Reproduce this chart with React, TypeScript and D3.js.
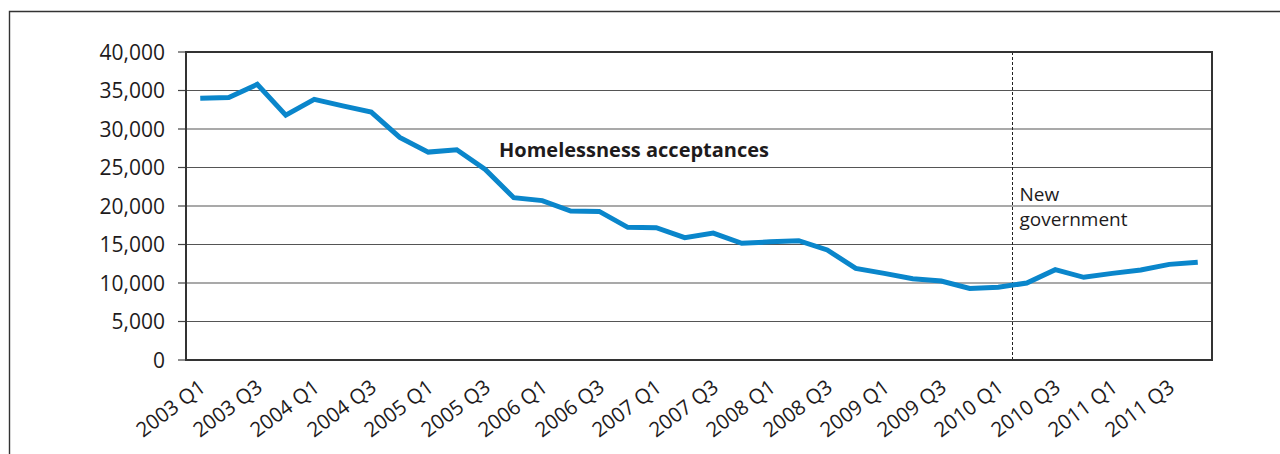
import React from "react";
import * as d3 from "d3";

const quarters: string[] = [
  "2003 Q1","2003 Q2","2003 Q3","2003 Q4",
  "2004 Q1","2004 Q2","2004 Q3","2004 Q4",
  "2005 Q1","2005 Q2","2005 Q3","2005 Q4",
  "2006 Q1","2006 Q2","2006 Q3","2006 Q4",
  "2007 Q1","2007 Q2","2007 Q3","2007 Q4",
  "2008 Q1","2008 Q2","2008 Q3","2008 Q4",
  "2009 Q1","2009 Q2","2009 Q3","2009 Q4",
  "2010 Q1","2010 Q2","2010 Q3","2010 Q4",
  "2011 Q1","2011 Q2","2011 Q3","2011 Q4",
];

const acceptances: number[] = [
  34000, 34100, 35800, 31800,
  33850, 33000, 32200, 28900,
  27000, 27300, 24750, 21080,
  20700, 19350, 19300, 17230,
  17180, 15890, 16490, 15150,
  15350, 15500, 14290, 11900,
  11250, 10560, 10260, 9300,
  9440, 10000, 11730, 10740,
  11250, 11690, 12420, 12690,
];

const xTickLabels: string[] = quarters.filter((_, i) => i % 2 === 0);
const yTicks: number[] = [0, 5000, 10000, 15000, 20000, 25000, 30000, 35000, 40000];
const seriesLabel = "Homelessness acceptances";
const eventQuarter = "2010 Q2";
const eventLabel: string[] = ["New", "government"];

const W = 1280;
const H = 454;
const M = { left: 186, right: 1212, top: 52, bottom: 360 };
const FONT = "'Open Sans', 'Noto Sans', sans-serif";
const TEXT = "#1e1b1c";
const LINE = "#0a86cb";

export default function App() {
  const x = d3.scaleBand<string>().domain(quarters).range([M.left, M.right]).padding(0);
  const y = d3.scaleLinear().domain([0, 40000]).range([M.bottom, M.top]);
  const cx = (q: string) => (x(q) as number) + x.bandwidth() / 2;

  const line = d3
    .line<number>()
    .x((_, i) => cx(quarters[i]))
    .y((d) => y(d));

  const fmt = d3.format(",");
  const evX = x(eventQuarter) as number;

  return (
    <svg
      width={W}
      height={H}
      style={{ position: "absolute", left: 0, top: 0, display: "block", background: "#fff" }}
      fontFamily={FONT}
    >
      {/* outer frame */}
      <path d={`M9.5,${H + 5} V11.5 H${W + 5}`} fill="none" stroke="#333" strokeWidth={1.4} />

      {/* gridlines */}
      {yTicks.map((t) => (
        <line key={"g" + t} x1={M.left} x2={M.right} y1={y(t)} y2={y(t)} stroke="#555" strokeWidth={1.2} />
      ))}
      {/* y tick marks + labels */}
      {yTicks.map((t) => (
        <g key={"y" + t}>
          <line x1={178} x2={M.left} y1={y(t)} y2={y(t)} stroke="#444" strokeWidth={1.2} />
          <text x={165} y={y(t)} dy="0.36em" textAnchor="end" fontSize={21} fill={TEXT}>
            {fmt(t)}
          </text>
        </g>
      ))}

      {/* event line */}
      <line x1={evX} x2={evX} y1={M.top} y2={M.bottom} stroke="#222" strokeWidth={1} strokeDasharray="3,2" />
      <text x={evX + 7} y={201} fontSize={19} fill={TEXT}>{eventLabel[0]}</text>
      <text x={evX + 7} y={226} fontSize={19} fill={TEXT}>{eventLabel[1]}</text>

      {/* series label */}
      <text x={499} y={157} fontSize={20} fontWeight="bold" fill={TEXT}>{seriesLabel}</text>

      {/* line */}
      <path d={line(acceptances) || ""} fill="none" stroke={LINE} strokeWidth={5} strokeLinejoin="miter" strokeLinecap="butt" />

      {/* plot frame */}
      <rect x={M.left} y={M.top} width={M.right - M.left} height={M.bottom - M.top} fill="none" stroke="#333" strokeWidth={2} />

      {/* x labels */}
      {xTickLabels.map((q) => (
        <text
          key={q}
          transform={`translate(${cx(q) + 6.5},${390}) rotate(-37)`}
          textAnchor="end"
          fontSize={20.5}
          fill={TEXT}
        >
          {q}
        </text>
      ))}
    </svg>
  );
}
